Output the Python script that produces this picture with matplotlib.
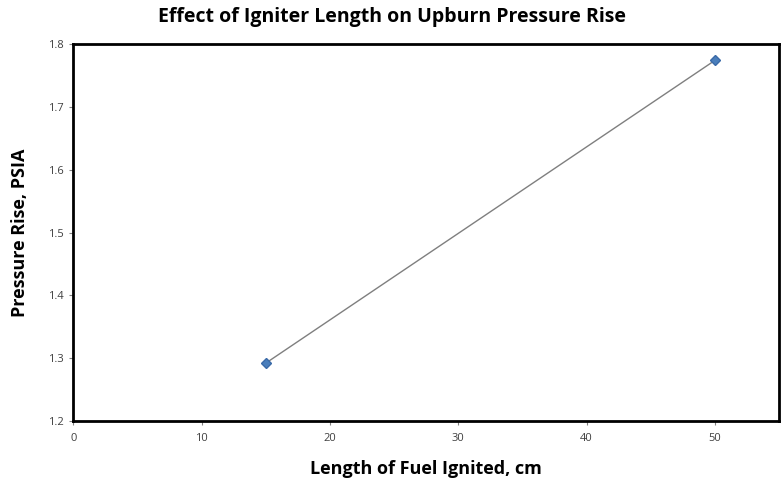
import matplotlib
matplotlib.use("Agg")
import matplotlib.pyplot as plt

# igniter length vs pressure rise
fuel_length_cm = [15, 50]
pressure_rise_psia = [1.292, 1.774]

x_ticks = [0, 10, 20, 30, 40, 50]
y_ticks = [1.2, 1.3, 1.4, 1.5, 1.6, 1.7, 1.8]

plt.rcParams["font.family"] = ["Open Sans", "DejaVu Sans"]

fig = plt.figure(figsize=(7.83, 4.82), dpi=100)
ax = fig.add_axes([0.0935, 0.1266, 0.9015, 0.782])

ax.plot(fuel_length_cm, pressure_rise_psia, color="#7f7f7f", linewidth=1.0,
        marker="D", markersize=5, markerfacecolor="#4a7ebb",
        markeredgecolor="#3a6aa8", zorder=3)

ax.set_xlim(0, 55)
ax.set_ylim(1.2, 1.8)
ax.set_xticks(x_ticks)
ax.set_yticks(y_ticks)
ax.set_yticklabels([f"{v:.1f}" for v in y_ticks])
ax.tick_params(axis="both", labelsize=8, colors="#808080", labelcolor="#404040",
               length=3, width=0.8, direction="out")
ax.tick_params(axis="x", pad=6)

for s in ax.spines.values():
    s.set_linewidth(2.0)
    s.set_color("black")

ax.set_xlabel("Length of Fuel Ignited, cm", fontsize=13, fontweight="bold", labelpad=11)
ax.set_ylabel("Pressure Rise, PSIA", fontsize=13, fontweight="bold", labelpad=14)
fig.suptitle("Effect of Igniter Length on Upburn Pressure Rise", fontsize=14,
             fontweight="bold", x=0.5, y=0.985)

fig.savefig("out.png", dpi=100)
